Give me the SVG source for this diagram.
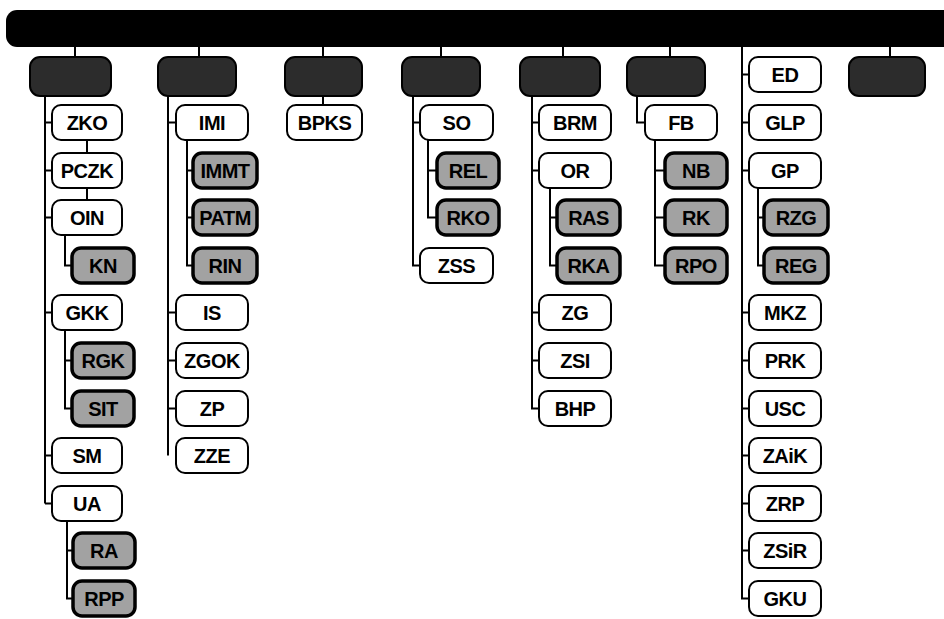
<svg xmlns="http://www.w3.org/2000/svg" width="944" height="619" viewBox="0 0 944 619">
<style>
.top{fill:#2c2c2c;stroke:#000;stroke-width:2}
.w{fill:#fff;stroke:#000;stroke-width:2}
.d{fill:#a2a2a2;stroke:#000;stroke-width:3.5}
.t{font-family:"Liberation Sans",Arial,sans-serif;font-weight:bold;font-size:20px;text-anchor:middle;fill:#000;letter-spacing:-0.5px}
.c{fill:none;stroke:#000;stroke-width:2}
</style>
<rect width="944" height="619" fill="#fff"/>
<rect id="bar" x="6" y="10" width="950" height="37" rx="11" fill="#000"/>
<g id="connectors" class="c">
<path d="M75 47V57M199 47V57M323 47V57M441 47V57M563 47V57M670 47V57M890 47V57"/>
<path d="M45 96V503.5M45 122.5H52M45 170.5H52M45 217.5H52M45 312.5H52M45 455.5H52M45 503.5H52"/>
<path d="M87 140V153M87 188V200"/>
<path d="M65 235V265.5H72M65 330V408.5H72M65 360.5H72M67 521V598.5H73M67 550.5H73"/>
<path d="M168 96V455.5M168 122.5H176M168 312.5H176M168 360.5H176M168 408.5H176"/>
<path d="M187 140V265.5H193M187 170.5H193M187 217.5H193"/>
<path d="M323 96V105"/>
<path d="M413 96V265.5H420M413 122.5H420"/>
<path d="M428 140V217.5H437M428 170.5H437"/>
<path d="M532 96V408.5H539M532 122.5H539M532 170.5H539M532 312.5H539M532 360.5H539"/>
<path d="M550 188V265.5H557M550 217.5H557"/>
<path d="M637 96V122.5H645"/>
<path d="M655 140V265.5H665M655 170.5H665M655 217.5H665"/>
<path d="M742 47V598.5H749M742 74.5H749M742 122.5H749M742 170.5H749M742 312.5H749M742 360.5H749M742 408.5H749M742 455.5H749M742 503.5H749M742 550.5H749"/>
<path d="M758 188V265.5H764M758 217.5H764"/>
</g>
<g id="top1"><rect class="top" x="30" y="57" width="81" height="39" rx="10"/></g>
<g id="top2"><rect class="top" x="158" y="57" width="78" height="39" rx="10"/></g>
<g id="top3"><rect class="top" x="285" y="57" width="77" height="39" rx="10"/></g>
<g id="top4"><rect class="top" x="402" y="57" width="78" height="39" rx="10"/></g>
<g id="top5"><rect class="top" x="520" y="57" width="80" height="39" rx="10"/></g>
<g id="top6"><rect class="top" x="627" y="57" width="78" height="39" rx="10"/></g>
<g id="top8"><rect class="top" x="849" y="57" width="76" height="39" rx="10"/></g>

<g id="ZKO"><rect class="w" x="52" y="105" width="70" height="35" rx="9"/><text class="t" x="87" y="130">ZKO</text></g>
<g id="PCZK"><rect class="w" x="52" y="153" width="70" height="35" rx="9"/><text class="t" x="87" y="178">PCZK</text></g>
<g id="OIN"><rect class="w" x="52" y="200" width="70" height="35" rx="9"/><text class="t" x="87" y="225">OIN</text></g>
<g id="KN"><rect class="d" x="72" y="248" width="62" height="35" rx="9"/><text class="t" x="103" y="273">KN</text></g>
<g id="GKK"><rect class="w" x="52" y="295" width="70" height="35" rx="9"/><text class="t" x="87" y="320">GKK</text></g>
<g id="RGK"><rect class="d" x="72" y="343" width="62" height="35" rx="9"/><text class="t" x="103" y="368">RGK</text></g>
<g id="SIT"><rect class="d" x="72" y="391" width="62" height="35" rx="9"/><text class="t" x="103" y="416">SIT</text></g>
<g id="SM"><rect class="w" x="52" y="438" width="70" height="35" rx="9"/><text class="t" x="87" y="463">SM</text></g>
<g id="UA"><rect class="w" x="52" y="486" width="70" height="35" rx="9"/><text class="t" x="87" y="511">UA</text></g>
<g id="RA"><rect class="d" x="73" y="533" width="62" height="35" rx="9"/><text class="t" x="104" y="558">RA</text></g>
<g id="RPP"><rect class="d" x="73" y="581" width="62" height="35" rx="9"/><text class="t" x="104" y="606">RPP</text></g>

<g id="IMI"><rect class="w" x="176" y="105" width="72" height="35" rx="9"/><text class="t" x="212" y="130">IMI</text></g>
<g id="IMMT"><rect class="d" x="193" y="153" width="64" height="35" rx="9"/><text class="t" x="225" y="178">IMMT</text></g>
<g id="PATM"><rect class="d" x="193" y="200" width="64" height="35" rx="9"/><text class="t" x="225" y="225">PATM</text></g>
<g id="RIN"><rect class="d" x="193" y="248" width="64" height="35" rx="9"/><text class="t" x="225" y="273">RIN</text></g>
<g id="IS"><rect class="w" x="176" y="295" width="72" height="35" rx="9"/><text class="t" x="212" y="320">IS</text></g>
<g id="ZGOK"><rect class="w" x="176" y="343" width="72" height="35" rx="9"/><text class="t" x="212" y="368">ZGOK</text></g>
<g id="ZP"><rect class="w" x="176" y="391" width="72" height="35" rx="9"/><text class="t" x="212" y="416">ZP</text></g>
<g id="ZZE"><rect class="w" x="176" y="438" width="72" height="35" rx="9"/><text class="t" x="212" y="463">ZZE</text></g>

<g id="BPKS"><rect class="w" x="287" y="105" width="75" height="35" rx="9"/><text class="t" x="324.5" y="130">BPKS</text></g>

<g id="SO"><rect class="w" x="420" y="105" width="73" height="35" rx="9"/><text class="t" x="456.5" y="130">SO</text></g>
<g id="REL"><rect class="d" x="437" y="153" width="62" height="35" rx="9"/><text class="t" x="468" y="178">REL</text></g>
<g id="RKO"><rect class="d" x="437" y="200" width="62" height="35" rx="9"/><text class="t" x="468" y="225">RKO</text></g>
<g id="ZSS"><rect class="w" x="420" y="248" width="73" height="35" rx="9"/><text class="t" x="456.5" y="273">ZSS</text></g>

<g id="BRM"><rect class="w" x="539" y="105" width="72" height="35" rx="9"/><text class="t" x="575" y="130">BRM</text></g>
<g id="OR"><rect class="w" x="539" y="153" width="72" height="35" rx="9"/><text class="t" x="575" y="178">OR</text></g>
<g id="RAS"><rect class="d" x="557" y="200" width="63" height="35" rx="9"/><text class="t" x="588.5" y="225">RAS</text></g>
<g id="RKA"><rect class="d" x="557" y="248" width="63" height="35" rx="9"/><text class="t" x="588.5" y="273">RKA</text></g>
<g id="ZG"><rect class="w" x="539" y="295" width="72" height="35" rx="9"/><text class="t" x="575" y="320">ZG</text></g>
<g id="ZSI"><rect class="w" x="539" y="343" width="72" height="35" rx="9"/><text class="t" x="575" y="368">ZSI</text></g>
<g id="BHP"><rect class="w" x="539" y="391" width="72" height="35" rx="9"/><text class="t" x="575" y="416">BHP</text></g>

<g id="FB"><rect class="w" x="645" y="105" width="72" height="35" rx="9"/><text class="t" x="681" y="130">FB</text></g>
<g id="NB"><rect class="d" x="665" y="153" width="62" height="35" rx="9"/><text class="t" x="696" y="178">NB</text></g>
<g id="RK"><rect class="d" x="665" y="200" width="62" height="35" rx="9"/><text class="t" x="696" y="225">RK</text></g>
<g id="RPO"><rect class="d" x="665" y="248" width="62" height="35" rx="9"/><text class="t" x="696" y="273">RPO</text></g>

<g id="ED"><rect class="w" x="749" y="57" width="72" height="35" rx="9"/><text class="t" x="785" y="82">ED</text></g>
<g id="GLP"><rect class="w" x="749" y="105" width="72" height="35" rx="9"/><text class="t" x="785" y="130">GLP</text></g>
<g id="GP"><rect class="w" x="749" y="153" width="72" height="35" rx="9"/><text class="t" x="785" y="178">GP</text></g>
<g id="RZG"><rect class="d" x="764" y="200" width="64" height="35" rx="9"/><text class="t" x="796" y="225">RZG</text></g>
<g id="REG"><rect class="d" x="764" y="248" width="64" height="35" rx="9"/><text class="t" x="796" y="273">REG</text></g>
<g id="MKZ"><rect class="w" x="749" y="295" width="72" height="35" rx="9"/><text class="t" x="785" y="320">MKZ</text></g>
<g id="PRK"><rect class="w" x="749" y="343" width="72" height="35" rx="9"/><text class="t" x="785" y="368">PRK</text></g>
<g id="USC"><rect class="w" x="749" y="391" width="72" height="35" rx="9"/><text class="t" x="785" y="416">USC</text></g>
<g id="ZAiK"><rect class="w" x="749" y="438" width="72" height="35" rx="9"/><text class="t" x="785" y="463">ZAiK</text></g>
<g id="ZRP"><rect class="w" x="749" y="486" width="72" height="35" rx="9"/><text class="t" x="785" y="511">ZRP</text></g>
<g id="ZSiR"><rect class="w" x="749" y="533" width="72" height="35" rx="9"/><text class="t" x="785" y="558">ZSiR</text></g>
<g id="GKU"><rect class="w" x="749" y="581" width="72" height="35" rx="9"/><text class="t" x="785" y="606">GKU</text></g>
</svg>
